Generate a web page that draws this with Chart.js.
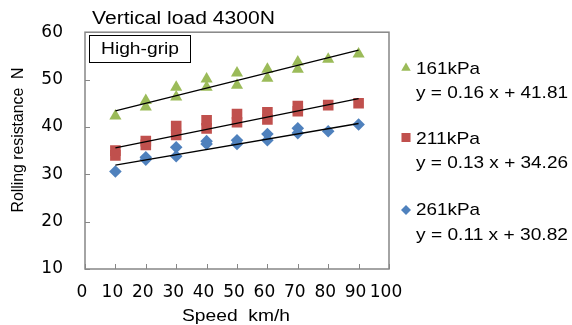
<!DOCTYPE html>
<html lang="en">
<head>
    <meta charset="UTF-8">
    <title>Rolling resistance vs speed</title>
    <script src="https://cdn.jsdelivr.net/npm/chart.js"></script>
    <style>
        body {
    margin: 0;
    background-color: #fff;
}

#chart-container {
    width: 572px;
    height: 325px;
}
    </style>
</head>
<body>

<div id="chart-container">
    <canvas id="rrChart" width="572" height="325"></canvas>
</div>

<script>
    // values
    var seriesNames = ["161kPa", "211kPa", "261kPa"];
    var equations = ["y = 0.16 x + 41.81", "y = 0.13 x + 34.26", "y = 0.11 x + 30.82"];

    var speed161 = [10, 20, 20, 30, 30, 40, 40, 50, 50, 60, 60, 70, 70, 80, 90];
    var force161 = [42.3, 45.6, 44.2, 48.4, 46.3, 50.1, 48.4, 51.4, 48.8, 52.2, 50.3, 53.7, 52.2, 54.3, 55.4];

    var speed211 = [10, 10, 20, 20, 30, 30, 40, 40, 50, 50, 60, 60, 70, 70, 80, 90];
    var force211 = [35.0, 34.0, 37.0, 36.2, 40.2, 38.3, 41.4, 39.7, 42.7, 41.0, 43.1, 41.6, 44.4, 43.3, 44.6, 45.0];

    var speed261 = [10, 20, 20, 30, 30, 40, 40, 50, 50, 60, 60, 70, 70, 80, 90];
    var force261 = [30.6, 33.6, 33.1, 35.7, 33.8, 37.0, 36.4, 37.2, 36.4, 38.5, 37.2, 39.7, 38.7, 39.1, 40.5];

    // trend line end points (x = 10 and x = 90), from the equations shown
    var trendSpeed = [10, 90];
    var trend161 = [43.41, 56.21];
    var trend211 = [35.56, 45.96];
    var trend261 = [31.92, 40.72];

    var colors = ["#9BBB59", "#C0504D", "#4F81BD"];
    var shapes = ["triangle", "rect", "rectRot"];
    var FONT = "'Liberation Sans', Arial, sans-serif";

    function toPoints(xs, ys) {
        var pts = [];
        for (var i = 0; i < xs.length; i++) pts.push({ x: xs[i], y: ys[i] });
        return pts;
    }

    function markerDataset(label, xs, ys, idx, radius) {
        return {
            type: 'scatter',
            label: label,
            data: toPoints(xs, ys),
            pointStyle: shapes[idx],
            pointRadius: radius,
            backgroundColor: colors[idx],
            borderColor: colors[idx],
            borderWidth: 0,
            order: 2
        };
    }

    function trendDataset(ys) {
        return {
            type: 'line',
            data: toPoints(trendSpeed, ys),
            borderColor: '#000',
            borderWidth: 1.3,
            pointRadius: 0,
            fill: false,
            order: 1
        };
    }

    // text squeezed/stretched to the width it has in the picture
    function fitText(ctx, text, x, y, width) {
        var w = ctx.measureText(text).width;
        ctx.save();
        ctx.translate(x, y);
        ctx.scale(width / w, 1);
        ctx.fillText(text, 0, 0);
        ctx.restore();
    }

    // frame, inward ticks, titles, text box and legend
    var decorations = {
        id: 'decorations',
        afterDraw: function (chart) {
            var ctx = chart.ctx;
            var a = chart.chartArea;
            var xs = chart.scales.x, ys = chart.scales.y;
            ctx.save();

            ctx.strokeStyle = '#868686';
            ctx.lineWidth = 1.5;
            ctx.strokeRect(a.left, a.top, a.right - a.left, a.bottom - a.top);

            ctx.lineWidth = 1;
            ctx.beginPath();
            xs.ticks.forEach(function (t) {
                var px = Math.round(xs.getPixelForValue(t.value)) + 0.5;
                ctx.moveTo(px, a.bottom);
                ctx.lineTo(px, a.bottom - 5);
            });
            ys.ticks.forEach(function (t) {
                var py = Math.round(ys.getPixelForValue(t.value)) + 0.5;
                ctx.moveTo(a.left, py);
                ctx.lineTo(a.left + 5, py);
            });
            ctx.stroke();

            ctx.fillStyle = '#000';
            ctx.font = '18px ' + FONT;
            ctx.textBaseline = 'middle';
            ctx.textAlign = 'left';
            fitText(ctx, 'Vertical load 4300N', 92, 19, 183);

            ctx.font = '17px ' + FONT;
            ctx.textAlign = 'center';
            fitText(ctx, 'Speed  km/h', 236, 316, 108);

            ctx.save();
            ctx.translate(19, 140);
            ctx.rotate(-Math.PI / 2);
            ctx.font = '16px ' + FONT;
            fitText(ctx, 'Rolling resistance  N', 0, 0, 145);
            ctx.restore();

            // High-grip box
            ctx.fillStyle = '#fff';
            ctx.fillRect(89, 35, 102, 27);
            ctx.strokeStyle = '#000';
            ctx.lineWidth = 1;
            ctx.strokeRect(89.5, 35.5, 101, 27);
            ctx.fillStyle = '#000';
            ctx.font = '17px ' + FONT;
            ctx.textAlign = 'left';
            fitText(ctx, 'High-grip', 101, 49, 78);

            // legend with equations
            var markerY = [68, 137.5, 210];
            var nameY = [69, 139, 210];
            var eqY = [93, 163, 235];
            var markerR = [5.5, 6.4, 5];
            for (var i = 0; i < seriesNames.length; i++) {
                ctx.fillStyle = colors[i];
                ctx.strokeStyle = colors[i];
                Chart.helpers.drawPoint(ctx, {
                    pointStyle: shapes[i],
                    radius: markerR[i],
                    borderWidth: 0
                }, 406, markerY[i]);
                ctx.fillStyle = '#000';
                fitText(ctx, seriesNames[i], 416, nameY[i], 64);
                fitText(ctx, equations[i], 416, eqY[i], 152);
            }
            ctx.restore();
        }
    };

    var ctx = document.getElementById('rrChart').getContext('2d');
    var myChart = new Chart(ctx, {
        data: {
            datasets: [
                markerDataset(seriesNames[0], speed161, force161, 0, 7),
                markerDataset(seriesNames[1], speed211, force211, 1, 7.5),
                markerDataset(seriesNames[2], speed261, force261, 2, 6.3),
                trendDataset(trend161),
                trendDataset(trend211),
                trendDataset(trend261)
            ]
        },
        options: {
            responsive: false,
            animation: false,
            layout: { padding: { top: 32, right: 183, left: 0, bottom: 0 } },
            plugins: {
                legend: { display: false },
                tooltip: { enabled: false }
            },
            scales: {
                x: {
                    type: 'linear',
                    min: 0,
                    max: 100,
                    ticks: {
                        stepSize: 10,
                        padding: 13,
                        maxRotation: 0,
                        autoSkip: false,
                        labelOffset: -3,
                        color: '#000',
                        font: { size: 17, family: "'DejaVu Sans', sans-serif" }
                    },
                    grid: { display: false, drawTicks: false },
                    border: { display: false },
                    afterFit: function (s) { s.height = 56; }
                },
                y: {
                    min: 10,
                    max: 60,
                    ticks: {
                        stepSize: 10,
                        padding: 22,
                        color: '#000',
                        font: { size: 17, family: "'DejaVu Sans', sans-serif" }
                    },
                    grid: { display: false, drawTicks: false },
                    border: { display: false },
                    afterFit: function (s) { s.width = 85; }
                }
            }
        },
        plugins: [decorations]
    });
</script>

</body>
</html>
